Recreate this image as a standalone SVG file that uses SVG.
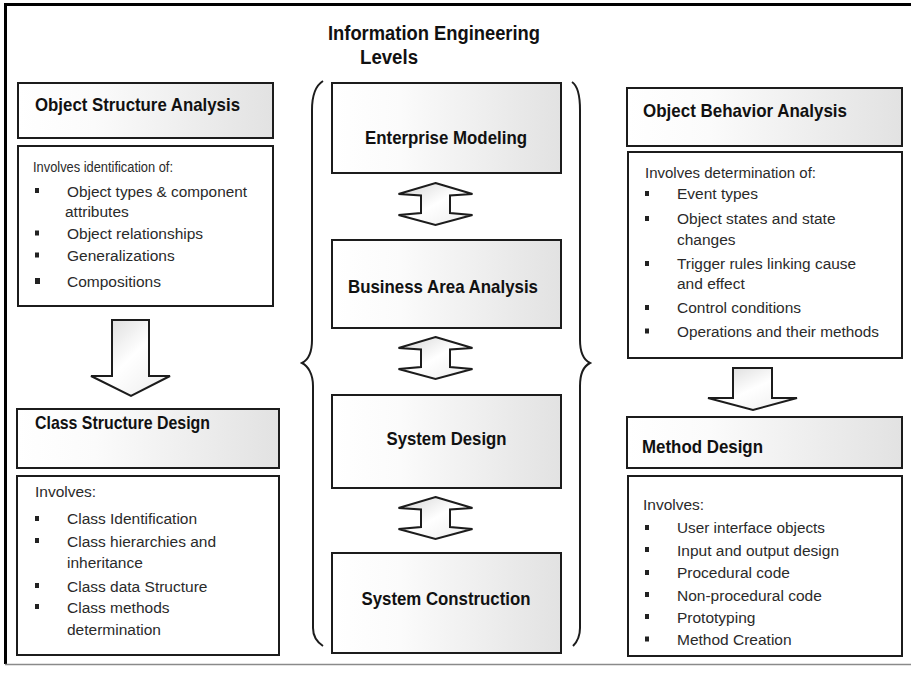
<svg xmlns="http://www.w3.org/2000/svg" width="911" height="675" viewBox="0 0 911 675">
<style>
.hdr{fill:url(#hg);stroke:#1c1c1c;stroke-width:2}
.body{fill:#fff;stroke:#1c1c1c;stroke-width:2}
.ht{font-family:"Liberation Sans",Arial,sans-serif;font-weight:bold;font-size:19px;fill:#111}
.ct{font-family:"Liberation Sans",Arial,sans-serif;font-weight:bold;font-size:19px;fill:#111;text-anchor:middle}
.bt{font-family:"Liberation Sans",Arial,sans-serif;font-size:15.5px;fill:#2a2a2a}
.bl{fill:#222}
.arw{fill:url(#ag);stroke:#1c1c1c;stroke-width:2;stroke-linejoin:miter}
.brace{fill:none;stroke:#1c1c1c;stroke-width:2}
</style>
<defs>
<linearGradient id="hg" x1="0" y1="0" x2="1" y2="0">
<stop offset="0" stop-color="#ffffff"/>
<stop offset="0.3" stop-color="#fbfbfb"/>
<stop offset="1" stop-color="#e2e2e2"/>
</linearGradient>
<linearGradient id="ag" x1="0" y1="0" x2="1" y2="1">
<stop offset="0" stop-color="#d4d4d4"/>
<stop offset="0.5" stop-color="#ffffff"/>
<stop offset="1" stop-color="#ececec"/>
</linearGradient>
<path id="dbl" d="M0,0 L37,11 L14.5,12.5 L14.5,30 L37,32 L0,42 L-37,32 L-14.5,30 L-14.5,12.5 L-37,11 Z"/>
</defs>
<rect width="911" height="675" fill="#fff"/>
<g id="frame">
<path d="M5.5,664 V4.5 H911" fill="none" stroke="#000" stroke-width="3"/>
<line x1="5" y1="664.5" x2="911" y2="664.5" stroke="#8a8a8a" stroke-width="1.5"/>
</g>
<g id="title">
<text class="ht" x="328" y="40" style="font-size:20px" textLength="212" lengthAdjust="spacingAndGlyphs">Information Engineering</text>
<text class="ht" x="360" y="64" style="font-size:20px" textLength="58" lengthAdjust="spacingAndGlyphs">Levels</text>
</g>
<g id="connectors">
<path class="arw" d="M112,320 H149 V376 H170 L131,396 L91,376 H112 Z"/>
<path class="arw" d="M733,368 H772 V398 H797 L753,410 L708,398 H733 Z"/>
<use href="#dbl" class="arw" transform="translate(435.5,183)"/>
<use href="#dbl" class="arw" transform="translate(435.5,337)"/>
<use href="#dbl" class="arw" transform="translate(435.5,497)"/>
<path class="brace" d="M323,81 C315,86 312,95 312,110 L312,340 C312,352 308,360 302,363 C308,366 313,374 313,386 L313,628 C313,637 317,642 323,646"/>
<path class="brace" d="M572,82 C578,86 580,95 580,110 L580,340 C580,352 584,360 590,363 C584,366 580,374 580,386 L580,628 C580,637 577,642 573,646"/>
</g>
<g id="object-structure-analysis">
<rect class="hdr" x="18" y="83" width="255" height="55"/>
<text class="ht" x="35" y="111" textLength="205" lengthAdjust="spacingAndGlyphs">Object Structure Analysis</text>
</g>
<g id="osa-details">
<rect class="body" x="18" y="146" width="255" height="160"/>
<text class="bt" x="33" y="172" style="font-size:14px" textLength="140" lengthAdjust="spacingAndGlyphs">Involves identification of:</text>
<rect class="bl" x="35" y="188" width="4" height="5"/>
<text class="bt" x="67" y="196.5" textLength="180" lengthAdjust="spacingAndGlyphs">Object types &amp; component</text>
<text class="bt" x="65" y="216.5">attributes</text>
<rect class="bl" x="35" y="230.5" width="4" height="5"/>
<text class="bt" x="67" y="239">Object relationships</text>
<rect class="bl" x="35" y="252.5" width="4" height="5"/>
<text class="bt" x="67" y="261">Generalizations</text>
<rect class="bl" x="35" y="278" width="5" height="6"/>
<text class="bt" x="67" y="287">Compositions</text>
</g>
<g id="class-structure-design">
<rect class="hdr" x="17" y="409" width="262" height="59"/>
<text class="ht" x="35" y="428.5" textLength="175" lengthAdjust="spacingAndGlyphs">Class Structure Design</text>
</g>
<g id="csd-details">
<rect class="body" x="17" y="476" width="262" height="179"/>
<text class="bt" x="35" y="496.7">Involves:</text>
<rect class="bl" x="35" y="516" width="4" height="5"/>
<text class="bt" x="67" y="524.3">Class Identification</text>
<rect class="bl" x="35" y="538" width="4" height="5"/>
<text class="bt" x="67" y="546.7">Class hierarchies and</text>
<text class="bt" x="67" y="567.7">inheritance</text>
<rect class="bl" x="35" y="583" width="4" height="5"/>
<text class="bt" x="67" y="591.7">Class data Structure</text>
<rect class="bl" x="35" y="604" width="4" height="5"/>
<text class="bt" x="67" y="612.7">Class methods</text>
<text class="bt" x="67" y="635">determination</text>
</g>
<g id="enterprise-modeling">
<rect class="hdr" x="332" y="83" width="229" height="90"/>
<text class="ct" x="446" y="144" textLength="162" lengthAdjust="spacingAndGlyphs">Enterprise Modeling</text>
</g>
<g id="business-area-analysis">
<rect class="hdr" x="332" y="240" width="229" height="88"/>
<text class="ct" x="443" y="293.3" textLength="190" lengthAdjust="spacingAndGlyphs">Business Area Analysis</text>
</g>
<g id="system-design">
<rect class="hdr" x="332" y="395" width="229" height="93"/>
<text class="ct" x="446.5" y="445" textLength="120" lengthAdjust="spacingAndGlyphs">System Design</text>
</g>
<g id="system-construction">
<rect class="hdr" x="332" y="553" width="229" height="100"/>
<text class="ct" x="446" y="605" textLength="169" lengthAdjust="spacingAndGlyphs">System Construction</text>
</g>
<g id="object-behavior-analysis">
<rect class="hdr" x="627" y="88" width="275" height="58"/>
<text class="ht" x="643" y="116.7" textLength="204" lengthAdjust="spacingAndGlyphs">Object Behavior Analysis</text>
</g>
<g id="oba-details">
<rect class="body" x="628" y="152" width="274" height="206"/>
<text class="bt" x="645" y="178" textLength="171" lengthAdjust="spacingAndGlyphs">Involves determination of:</text>
<rect class="bl" x="645" y="191" width="4" height="5"/>
<text class="bt" x="677" y="199.3">Event types</text>
<rect class="bl" x="645" y="216" width="4" height="5"/>
<text class="bt" x="677" y="224.3">Object states and state</text>
<text class="bt" x="677" y="244.5">changes</text>
<rect class="bl" x="645" y="261" width="4" height="5"/>
<text class="bt" x="677" y="269.3" textLength="179" lengthAdjust="spacingAndGlyphs">Trigger rules linking cause</text>
<text class="bt" x="677" y="289.3">and effect</text>
<rect class="bl" x="645" y="305" width="4" height="5"/>
<text class="bt" x="677" y="313.3">Control conditions</text>
<rect class="bl" x="645" y="328.5" width="4" height="5"/>
<text class="bt" x="677" y="337" textLength="202" lengthAdjust="spacingAndGlyphs">Operations and their methods</text>
</g>
<g id="method-design">
<rect class="hdr" x="627" y="417" width="275" height="51"/>
<text class="ht" x="642" y="453" textLength="121" lengthAdjust="spacingAndGlyphs">Method Design</text>
</g>
<g id="md-details">
<rect class="body" x="628" y="476" width="274" height="180"/>
<text class="bt" x="643" y="510">Involves:</text>
<rect class="bl" x="645" y="525" width="4" height="5"/>
<text class="bt" x="677" y="533.3" textLength="148" lengthAdjust="spacingAndGlyphs">User interface objects</text>
<rect class="bl" x="645" y="547" width="4" height="5"/>
<text class="bt" x="677" y="555.7">Input and output design</text>
<rect class="bl" x="645" y="570" width="4" height="5"/>
<text class="bt" x="677" y="578.3">Procedural code</text>
<rect class="bl" x="645" y="592" width="4" height="5"/>
<text class="bt" x="677" y="600.7">Non-procedural code</text>
<rect class="bl" x="645" y="614" width="4" height="5"/>
<text class="bt" x="677" y="622.7">Prototyping</text>
<rect class="bl" x="645" y="636.5" width="4" height="5"/>
<text class="bt" x="677" y="645">Method Creation</text>
</g>
</svg>
